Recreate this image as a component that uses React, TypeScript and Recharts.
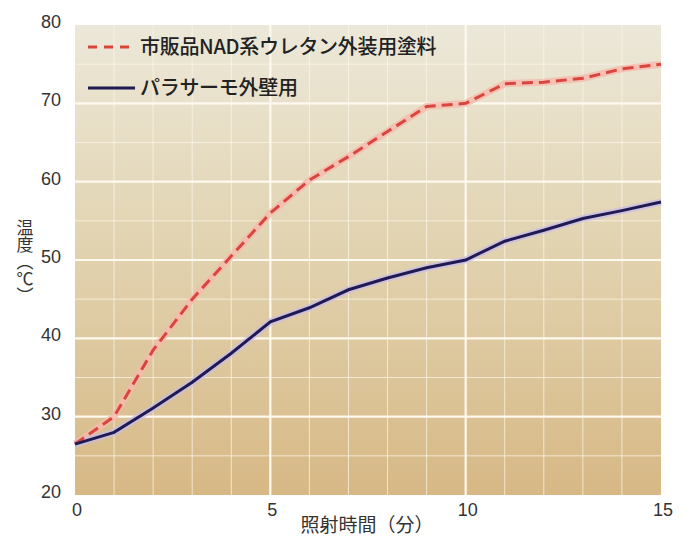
import React from 'react';
import { LineChart, Line, XAxis, YAxis, CartesianGrid } from 'recharts';

// 照射時間（分）
const minutes = [0, 1, 2, 3, 4, 5, 6, 7, 8, 9, 10, 11, 12, 13, 14, 15];
// 市販品NAD系ウレタン外装用塗料
const nadCoating = [26.5, 30, 38.5, 45, 50.5, 56, 60.2, 63.2, 66.4, 69.6, 70, 72.5, 72.7, 73.2, 74.4, 75];
// パラサーモ外壁用
const paraThermo = [26.5, 28, 31.1, 34.4, 38.1, 42.1, 43.9, 46.2, 47.7, 49, 50, 52.4, 53.8, 55.3, 56.3, 57.4];

const xTicks = [0, 5, 10, 15];
const yTicks = [20, 30, 40, 50, 60, 70, 80];
const minorX = [1, 2, 3, 4, 6, 7, 8, 9, 11, 12, 13, 14];
const majorX = [5, 10];
const minorY = [25, 35, 45, 55, 65, 75];
const majorY = [30, 40, 50, 60, 70];

const SERIES = [
  { key: 'nad', name: '市販品NAD系ウレタン外装用塗料', color: '#d9453d', halo: '#f6b9ad', dash: '11 6' },
  { key: 'para', name: 'パラサーモ外壁用', color: '#1f1b52', halo: '#c9bde6', dash: undefined },
];

const data = minutes.map((m, i) => ({ min: m, nad: nadCoating[i], para: paraThermo[i] }));

const LABEL_FONT = '"Liberation Sans", Arial, sans-serif';
const JP_FONT = '"Noto Sans CJK JP", "Noto Sans", sans-serif';

const XTick = ({ x, y, payload }: any) => (
  <text x={x + 2} y={y + 13} textAnchor="middle" fontSize={18} fontFamily={LABEL_FONT} fill="#333">
    {payload.value}
  </text>
);

const YTick = ({ x, y, payload }: any) => (
  <text x={x - 6} y={y + 3} textAnchor="end" fontSize={18} fontFamily={LABEL_FONT} fill="#333">
    {payload.value}
  </text>
);

// vertical title, written top to bottom
const YTitle = () => (
  <text
    x={25}
    y={262}
    textAnchor="middle"
    fontSize={17}
    fontFamily={JP_FONT}
    fill="#333"
    style={{ writingMode: 'vertical-rl' as any }}
  >
    温度（℃）
  </text>
);

const XTitle = () => (
  <text x={367} y={532} textAnchor="middle" fontSize={19} fontFamily={JP_FONT} fill="#333">
    照射時間（分）
  </text>
);

const ChartLegend = () => (
  <g>
    {SERIES.map((s, i) => {
      const y = 47 + i * 41;
      return (
        <g key={s.key}>
          <line
            x1={88}
            y1={y}
            x2={s.dash ? 130 : 135}
            y2={y}
            stroke={s.color}
            strokeWidth={3}
            strokeDasharray={s.dash ? '9 7' : undefined}
          />
          <text x={140} y={y + 7} fontSize={20} fontFamily={JP_FONT} fill="#222" fontWeight={500} letterSpacing={-0.3}>
            {s.name}
          </text>
        </g>
      );
    })}
  </g>
);

export default function App() {
  return (
    <div style={{ position: 'absolute', left: 0, top: 0, width: 686, height: 537, background: '#fff' }}>
      <LineChart width={686} height={537} data={data} margin={{ top: 25, right: 25, bottom: 0, left: 0 }}>
        <defs>
          <linearGradient id="bgGrad" x1="0" y1="0" x2="0" y2="1">
            <stop offset="0%" stopColor="#ece8d9" />
            <stop offset="45%" stopColor="#e2d4b2" />
            <stop offset="100%" stopColor="#d7b885" />
          </linearGradient>
        </defs>
        <CartesianGrid
          fill="url(#bgGrad)"
          stroke="#fbf6e8"
          strokeWidth={1}
          strokeOpacity={0.75}
          horizontalValues={minorY}
          verticalValues={minorX}
        />
        <CartesianGrid
          stroke="#fdf9ee"
          strokeWidth={2.2}
          horizontalValues={majorY}
          verticalValues={majorX}
        />
        <XAxis
          dataKey="min"
          type="number"
          domain={[0, 15]}
          ticks={xTicks}
          axisLine={false}
          tickLine={false}
          height={42}
          tick={<XTick />}
          interval={0}
        />
        <YAxis
          type="number"
          domain={[20, 80]}
          ticks={yTicks}
          axisLine={false}
          tickLine={false}
          width={75}
          tick={<YTick />}
          interval={0}
        />
        {SERIES.map((s) => (
          <Line
            key={`${s.key}-halo`}
            dataKey={s.key}
            type="linear"
            stroke={s.halo}
            strokeWidth={7}
            strokeOpacity={0.8}
            dot={false}
            activeDot={false}
            legendType="none"
            isAnimationActive={false}
          />
        ))}
        {SERIES.map((s) => (
          <Line
            key={s.key}
            dataKey={s.key}
            name={s.name}
            type="linear"
            stroke={s.color}
            strokeWidth={3}
            strokeDasharray={s.dash}
            dot={false}
            activeDot={false}
            isAnimationActive={false}
          />
        ))}
        <ChartLegend />
        <YTitle />
        <XTitle />
      </LineChart>
    </div>
  );
}
